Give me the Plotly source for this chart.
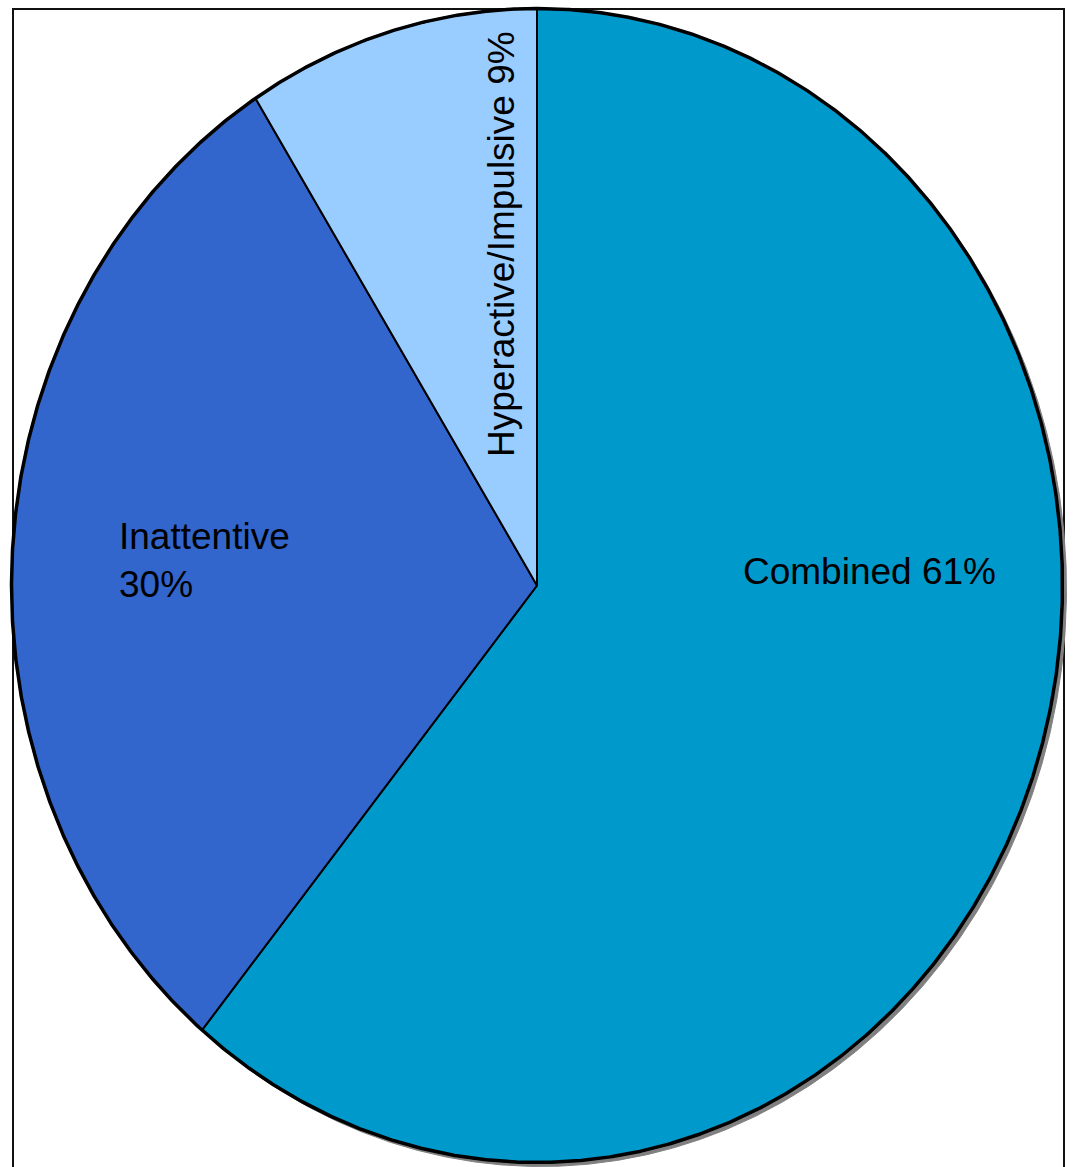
import numpy as np
import plotly.graph_objects as go

# Data
labels = ["Combined", "Inattentive", "Hyperactive/Impulsive"]
values = [61, 30, 9]
colors = ["#0099CC", "#3366CC", "#99CCFF"]

W, H = 1074, 1167
cx, cy = 537.0, 585.5
rx, ry = 525.5, 577.0

def ell(theta_deg):
    t = np.radians(theta_deg)
    # clockwise from 12 o'clock, y downward (axis reversed)
    return cx + rx * np.sin(t), cy - ry * np.cos(t)

fig = go.Figure()

# shadow
full = np.linspace(0, 360, 1441)
sx, sy = ell(full)
fig.add_trace(go.Scatter(x=sx + 4, y=sy + 4, mode="lines", fill="toself",
                         fillcolor="#808080", line=dict(color="#808080", width=1),
                         hoverinfo="skip", showlegend=False))

total = float(sum(values))
start = 0.0
for lab, v, c in zip(labels, values, colors):
    span = 360.0 * v / total
    th = np.linspace(start, start + span, max(int(span * 4), 2))
    px, py = ell(th)
    xs = np.concatenate([[cx], px, [cx]])
    ys = np.concatenate([[cy], py, [cy]])
    fig.add_trace(go.Scatter(x=xs, y=ys, mode="lines", fill="toself",
                             fillcolor=c, line=dict(color="black", width=2),
                             name=lab, hoverinfo="name", showlegend=False))
    start += span

# outer outline
fig.add_trace(go.Scatter(x=sx, y=sy, mode="lines", line=dict(color="black", width=3.5),
                         hoverinfo="skip", showlegend=False))

font = dict(family="Liberation Sans, Arial, sans-serif", size=37, color="black")
fig.add_annotation(x=869, y=571, xref="x", yref="y", text=f"{labels[0]} {values[0]}%",
                   showarrow=False, font=font, xanchor="center", yanchor="middle")
fig.add_annotation(x=117, y=560, xref="x", yref="y", text=f"{labels[1]}<br>{values[1]}%",
                   showarrow=False, font=font, xanchor="left", yanchor="middle", align="left")
fig.add_annotation(x=501, y=244, xref="x", yref="y", text=f"{labels[2]} {values[2]}%",
                   showarrow=False, font=font, textangle=-90,
                   xanchor="center", yanchor="middle")

fig.add_shape(type="rect", x0=13, y0=9, x1=1064, y1=1180, xref="x", yref="y",
              line=dict(color="#111111", width=2), layer="below")

fig.update_layout(
    width=W, height=H, margin=dict(l=0, r=0, t=0, b=0),
    paper_bgcolor="white", plot_bgcolor="white",
    xaxis=dict(range=[0, W], visible=False, fixedrange=True),
    yaxis=dict(range=[H, 0], visible=False, fixedrange=True),
)

fig.write_html("out.html")
